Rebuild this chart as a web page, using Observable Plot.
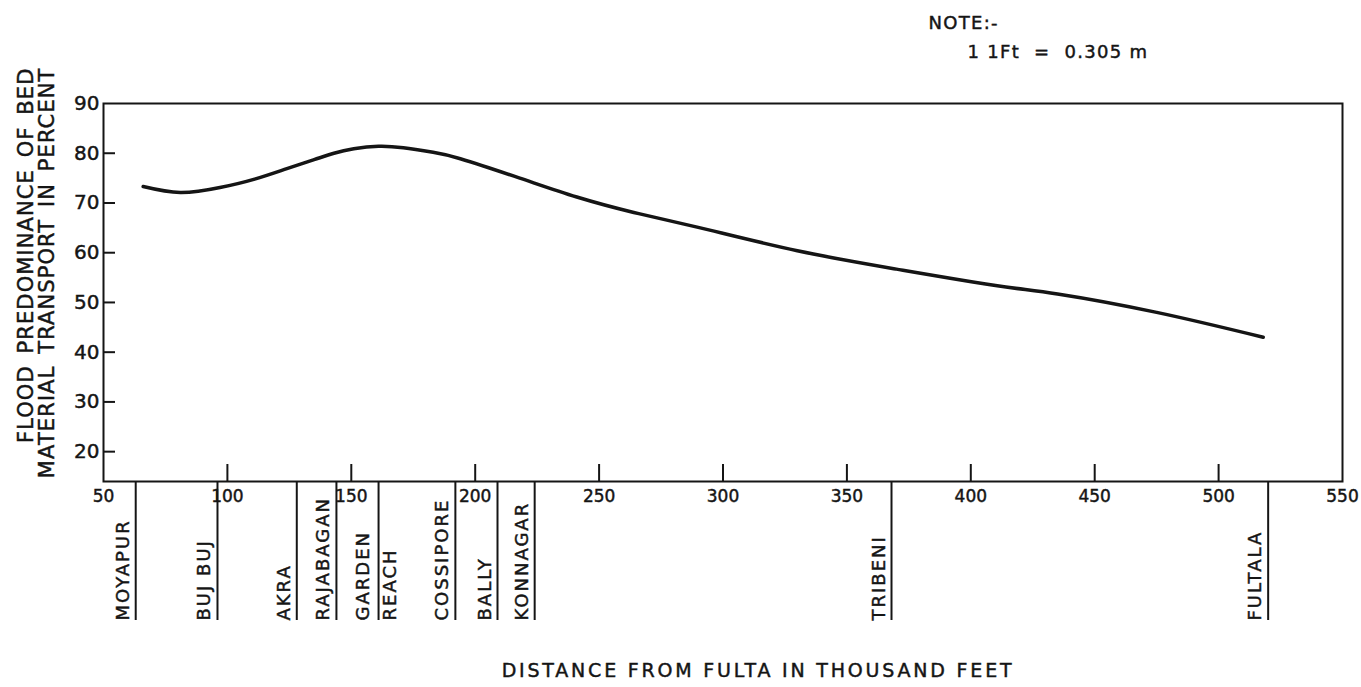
<!DOCTYPE html>
<html>
<head>
<meta charset="utf-8">
<script src="https://cdn.jsdelivr.net/npm/d3@7"></script>
<script src="https://cdn.jsdelivr.net/npm/@observablehq/plot@0.6"></script>
<style>
  html, body { margin: 0; padding: 0; background: #ffffff; }
  #chart svg { display: block; }
  #chart svg text { stroke: #151515; stroke-width: 0.45px; }
</style>
</head>
<body>
<div id="chart"></div>
<script>
// ---- data ----
const distance = [66, 81, 97, 111, 124, 135, 143, 151, 161, 171, 183, 194, 218, 241, 264, 290, 330, 370, 410, 435, 475, 518];
const percent  = [73.3, 72.1, 73.1, 74.8, 76.9, 78.7, 80.0, 80.9, 81.4, 81.1, 80.2, 78.9, 75.0, 71.2, 68.1, 65.1, 60.4, 56.7, 53.4, 51.7, 48.0, 43.0];

const stationNames    = ["MOYAPUR", "BUJ BUJ", "AKRA", "RAJABAGAN", "GARDEN\nREACH", "COSSIPORE", "BALLY", "KONNAGAR", "TRIBENI", "FULTALA"];
const stationDistance = [63, 96, 128, 144, 161, 192, 209, 224, 368, 520];

const xTicks = [50, 100, 150, 200, 250, 300, 350, 400, 450, 500, 550];
const yTicks = [20, 30, 40, 50, 60, 70, 80, 90];

const xTitle = "DISTANCE FROM FULTA IN THOUSAND FEET";
const yTitleLines = ["FLOOD PREDOMINANCE OF BED", "MATERIAL TRANSPORT IN PERCENT"];
const noteHead = "NOTE:-";
const noteBody = "1 1Ft  =  0.305 m";

// ---- derived tables ----
const curveData = distance.map((d, i) => ({distance: d, percent: percent[i]}));
const stations = stationNames.map((n, i) => ({name: n, distance: stationDistance[i]}));
const singleStations = stations.filter(d => !d.name.includes("\n"));
const multiStations = stations.filter(d => d.name.includes("\n"));

const Y0 = 14;          // bottom of y domain
const INK = "#151515";
const DEPTH = 139;      // station leader length below the axis

const chart = Plot.plot({
  width: 1361,
  height: 687,
  marginLeft: 103,
  marginRight: 19,
  marginTop: 103,
  marginBottom: 206,
  style: {fontFamily: "'DejaVu Sans', sans-serif", color: INK, background: "#ffffff", overflow: "visible"},
  x: {domain: [50, 550]},
  y: {domain: [Y0, 90]},
  marks: [
    Plot.frame({stroke: INK, strokeWidth: 2}),
    // tick labels
    Plot.axisX({ticks: xTicks, tickSize: 0, tickPadding: 8, fontSize: 17, label: null, fill: INK}),
    Plot.axisY({ticks: yTicks, tickSize: 0, tickPadding: 4, fontSize: 20, label: null, fill: INK}),
    // inward tick marks
    Plot.ruleX(xTicks.slice(1, -1), {x: d => d, y1: Y0, y2: Y0, insetTop: -17, stroke: INK, strokeWidth: 2}),
    Plot.ruleY(yTicks.slice(0, -1), {y: d => d, x1: 50, x2: 50, insetRight: -12, stroke: INK, strokeWidth: 2}),
    // station leaders
    Plot.ruleX(stations, {x: "distance", y1: Y0, y2: Y0, insetBottom: -DEPTH, stroke: INK, strokeWidth: 2}),
    // the curve
    Plot.line(curveData, {x: "distance", y: "percent", curve: "natural", stroke: INK, strokeWidth: 3.5, strokeLinecap: "round"}),
    // station labels
    Plot.text(singleStations, {x: "distance", y: Y0, dy: DEPTH, dx: -7, text: "name", rotate: -90,
      textAnchor: "start", lineAnchor: "bottom", fontSize: 18, fill: INK}),
    Plot.text(multiStations, {x: "distance", y: Y0, dy: DEPTH, dx: -5, text: "name", rotate: -90,
      textAnchor: "start", lineAnchor: "middle", lineHeight: 1.5, fontSize: 18, fill: INK}),
    // y title (two lines, rotated)
    Plot.text([yTitleLines.join("\n")], {frameAnchor: "top-left", dx: -50, dy: -36, text: d => d, rotate: -90,
      textAnchor: "end", lineAnchor: "bottom", lineHeight: 1.0, fontSize: 21, fill: INK}),
    // x title
    Plot.text([xTitle], {frameAnchor: "bottom", dx: 35, dy: 195, text: d => d,
      textAnchor: "middle", lineAnchor: "bottom", fontSize: 19, fill: INK}),
    // note
    Plot.text([noteHead], {frameAnchor: "top-left", dx: 825, dy: -75, text: d => d,
      textAnchor: "start", lineAnchor: "bottom", fontSize: 18, fill: INK}),
    Plot.text([noteBody], {frameAnchor: "top-left", dx: 864, dy: -46, text: d => d,
      textAnchor: "start", lineAnchor: "bottom", fontSize: 18, fill: INK})
  ]
});

// letter / word spacing per text mark (in mark order)
const spacing = [["2px"], ["2px"], ["1.1px", "4px"], ["2.8px"], ["1.3px"], ["1.3px"]];
d3.select(chart).selectAll('g[aria-label="text"]').each(function (_, i) {
  const s = spacing[i];
  if (!s) return;
  this.setAttribute("letter-spacing", s[0]);
  if (s[1]) this.setAttribute("word-spacing", s[1]);
});

document.getElementById("chart").appendChild(chart);
</script>
</body>
</html>
